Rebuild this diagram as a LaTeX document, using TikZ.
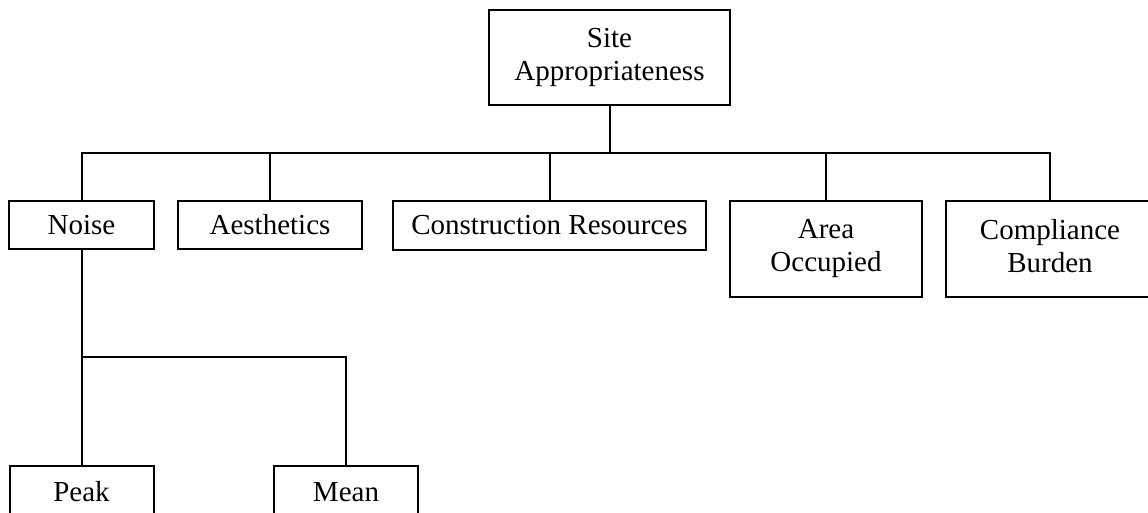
\documentclass[tikz,border=0pt]{standalone}
\usepackage{fontspec}
\setmainfont{Liberation Serif}
\begin{document}
\begin{tikzpicture}[x=1pt,y=-1pt,
  box/.style={draw,line width=2pt,inner sep=0pt,align=center,
    font=\fontsize{29}{33}\selectfont},
  conn/.style={line width=2pt,line cap=rect,line join=miter}]
\useasboundingbox (0,0) rectangle (1148,512);
\node[box,minimum width=241pt,minimum height=95.5pt] (top) at (609.5,57.25) {Site\\Appropriateness};
\node[box,minimum width=145pt,minimum height=48pt] (noise) at (81.5,225) {Noise};
\node[box,minimum width=184pt,minimum height=48pt] (aest) at (270,225) {Aesthetics};
\node[box,minimum width=313pt,minimum height=49pt] (cons) at (549.5,225.5) {Construction Resources};
\node[box,minimum width=192pt,minimum height=96pt] (area) at (826,249) {Area\\Occupied};
\node[box,minimum width=208pt,minimum height=96pt] (comp) at (1050,249) {Compliance\\Burden\vphantom{p}};
\node[box,minimum width=144pt,minimum height=52pt] (peak) at (81.5,492) {Peak};
\node[box,minimum width=144pt,minimum height=52pt] (mean) at (346,492) {Mean};
\coordinate (j1) at (609.5,153);
\coordinate (j2) at (81.5,357);
\draw[conn] (top.south) -- (j1);
\draw[conn] (noise.north) |- (comp.north |- j1) -- (comp.north);
\draw[conn] (aest.north) -- (aest.north |- j1);
\draw[conn] (cons.north) -- (cons.north |- j1);
\draw[conn] (area.north) -- (area.north |- j1);
\draw[conn] (noise.south) -- (j2);
\draw[conn] (peak.north) |- (mean.north |- j2) -- (mean.north);
\end{tikzpicture}
\end{document}
